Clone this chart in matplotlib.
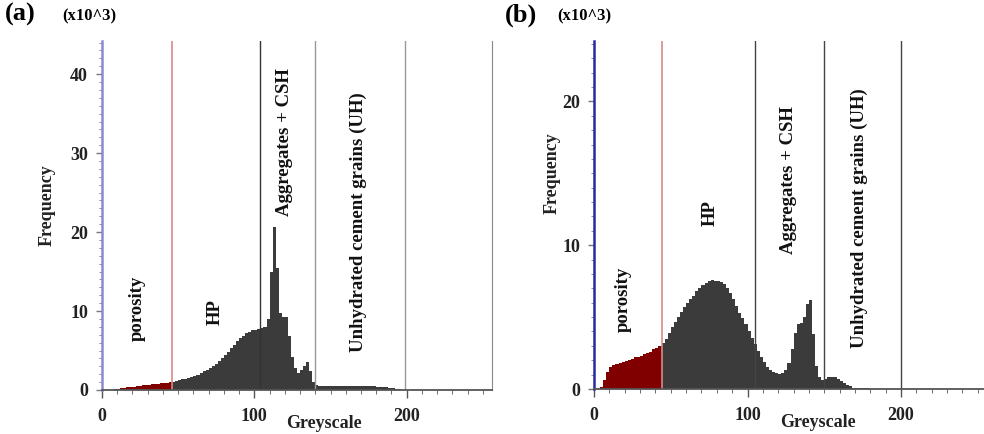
import numpy as np
import matplotlib.pyplot as plt
from matplotlib.ticker import MultipleLocator

plt.rcParams['font.family'] = ['Liberation Serif', 'DejaVu Serif']
plt.rcParams['font.weight'] = 'bold'

# histogram counts (x10^3), one value per 2 greyscale levels starting at 0
bin_width = 2
freq_a = [0, 0, 0.02, 0.05, 0.1, 0.15, 0.2, 0.26, 0.32, 0.38,
          0.43, 0.48, 0.53, 0.58, 0.63, 0.67, 0.71, 0.75, 0.79, 0.83,
          0.87, 0.92, 0.97, 1.05, 1.15, 1.25, 1.35, 1.45, 1.55, 1.65,
          1.78, 1.95, 2.15, 2.35, 2.55, 2.8, 3.05, 3.35, 3.7, 4.05,
          4.45, 4.85, 5.3, 5.75, 6.15, 6.55, 6.9, 7.2, 7.4, 7.55,
          7.65, 7.7, 7.8, 8.0, 9.0, 15.0, 20.6, 15.5, 9.8, 9.3,
          9.2, 6.8, 4.2, 2.8, 2.2, 2.5, 3.1, 3.5, 2.4, 1.0,
          0.6, 0.56, 0.55, 0.55, 0.54, 0.54, 0.53, 0.53, 0.52, 0.52,
          0.51, 0.51, 0.5, 0.5, 0.49, 0.49, 0.48, 0.47, 0.46, 0.45,
          0.44, 0.42, 0.4, 0.36, 0.3, 0.22, 0.14, 0.08, 0.04]
freq_b = [0, 0, 0.15, 0.6, 1.15, 1.5, 1.65, 1.75, 1.82, 1.9,
          1.96, 2.05, 2.12, 2.2, 2.25, 2.3, 2.4, 2.5, 2.6, 2.75,
          2.85, 3.0, 3.2, 3.5, 3.9, 4.3, 4.65, 5.0, 5.35, 5.7,
          5.95, 6.25, 6.5, 6.8, 7.0, 7.2, 7.35, 7.5, 7.55, 7.5,
          7.5, 7.45, 7.3, 7.0, 6.65, 6.25, 5.8, 5.3, 4.95, 4.5,
          4.0, 3.55, 3.1, 2.65, 2.2, 1.85, 1.55, 1.35, 1.2, 1.1,
          1.05, 1.1, 1.3, 1.8, 2.8, 3.9, 4.5, 4.6, 5.0, 5.9,
          6.2, 3.8, 1.6, 0.8, 0.62, 0.7, 0.8, 0.85, 0.8, 0.7,
          0.55, 0.42, 0.3, 0.18, 0.1, 0.07, 0.05, 0.05, 0.04, 0.04,
          0.03, 0.03, 0.02]

# phase thresholds (greyscale)
pore_cut_a = 46
pore_cut_b = 44
lines_a = [104, 140, 199]
lines_b = [105, 150, 200]
line_cols_a = ['#333333', '#999999', '#999999']
line_cols_b = ['#444444', '#444444', '#444444']

labels = ['porosity', 'HP', 'Aggregates + CSH', 'Unhydrated cement grains (UH)']
label_pos_a = [(23, 10.4), (74, 9.9), (120, 31.4), (168, 21.3)]
label_pos_b = [(19, 6.2), (76, 12.2), (126.5, 14.5), (173, 11.9)]

fig = plt.figure(figsize=(9.84, 4.34), dpi=100)
ax_a = fig.add_axes([102/984, 1-390/434, 390/984, 349/434])
ax_b = fig.add_axes([594/984, 1-389/434, 393/984, 348/434])


def draw(ax, freq, cut, lines, line_cols, ymax, yticks, pos, blue, letter,
         letter_x, unit_x, ylab_xy):
    freq = np.array(freq)
    edges = np.arange(0, bin_width*len(freq)+1, bin_width)
    n_red = int(cut / bin_width)
    ax.stairs(freq[:n_red], edges[:n_red+1], fill=True, color='#800000', lw=0)
    ax.stairs(freq[n_red:], edges[n_red:], fill=True, color='#3b3b3b', lw=0)
    ax.axvline(cut, color='#d88a8a', lw=1.2)
    for xv, c in zip(lines, line_cols):
        ax.axvline(xv, color=c, lw=1.0)
    ax.set_xlim(0, 256)
    ax.set_ylim(0, ymax)
    ax.set_xticks([0, 100, 200])
    ax.xaxis.set_minor_locator(MultipleLocator(10))
    ax.set_yticks(yticks)
    ax.yaxis.set_minor_locator(MultipleLocator(1))
    ax.tick_params(axis='both', labelsize=13, colors='#222222', width=1)
    ax.tick_params(axis='x', which='major', length=6, pad=7, color='#555555')
    ax.tick_params(axis='x', which='minor', length=3, color='#555555')
    ax.tick_params(axis='y', which='major', length=4, pad=6, color='#777777')
    ax.tick_params(axis='y', which='minor', length=2.5, color='#777799')
    for t in ax.get_xticklabels() + ax.get_yticklabels():
        t.set_fontweight('bold')
    ax.spines['top'].set_visible(False)
    ax.spines['left'].set_color(blue)
    ax.spines['left'].set_linewidth(1.8)
    ax.spines['bottom'].set_color('#555555')
    ax.spines['bottom'].set_linewidth(1.3)
    ax.spines['right'].set_color('#888888')
    for txt, (x, y) in zip(labels, pos):
        ax.text(x, y, txt, rotation=90, ha='center', va='center',
                fontsize=13.5, fontweight='bold', color='#111111')
    ax.text(0.57, -0.097, 'Greyscale', transform=ax.transAxes, ha='center',
            va='center', fontsize=13, fontweight='bold', color='#222222')
    ax.text(ylab_xy[0], ylab_xy[1], 'Frequency', transform=ax.transAxes,
            rotation=90, ha='center', va='center', fontsize=13,
            fontweight='bold', color='#222222')
    ax.text(letter_x, 1.075, letter, transform=ax.transAxes, fontsize=19,
            fontweight='bold', va='center')
    ax.text(unit_x, 1.07, '(x10^3)', transform=ax.transAxes, fontsize=12,
            fontweight='bold', va='center')


draw(ax_a, freq_a, pore_cut_a, lines_a, line_cols_a, 44.2, [0, 10, 20, 30, 40],
     label_pos_a, '#8a8ad0', '(a)', -0.25, -0.103, (-0.141, 0.53))
draw(ax_b, freq_b, pore_cut_b, lines_b, line_cols_b, 24.2, [0, 10, 20],
     label_pos_b, '#2a2aa0', '(b)', -0.228, -0.094, (-0.107, 0.62))

fig.savefig('out.png', dpi=100)
